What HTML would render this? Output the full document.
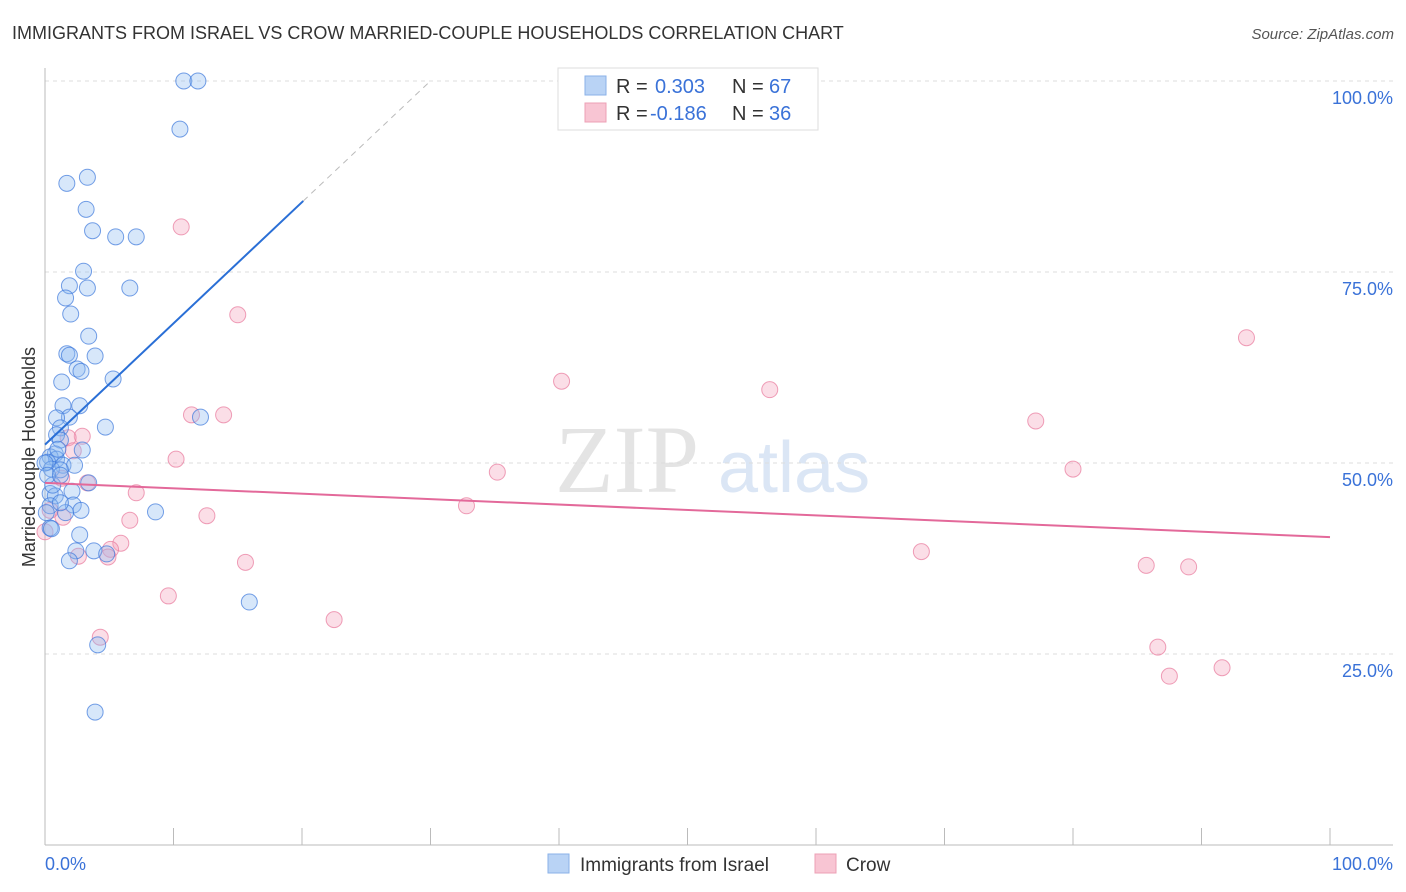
<!DOCTYPE html>
<html><head><meta charset="utf-8"><style>
body{margin:0;background:#fff;font-family:"Liberation Sans",sans-serif;}
svg{display:block}
</style></head><body>
<svg id="chart" width="1406" height="892">
<text x="12" y="39" font-size="18" fill="#333">IMMIGRANTS FROM ISRAEL VS CROW MARRIED-COUPLE HOUSEHOLDS CORRELATION CHART</text>
<text x="1394" y="39" font-size="15" fill="#555" font-style="italic" text-anchor="end">Source: ZipAtlas.com</text>
<text x="555" y="492" font-size="96" fill="#e4e4e4" font-family="Liberation Serif,serif">ZIP</text>
<text x="718" y="492" font-size="72" fill="#dbe6f5">atlas</text>
<g id="grid"></g>
<g id="axes"></g>
<g id="marks"></g>
<text transform="translate(35,457) rotate(-90)" font-size="18" fill="#333" text-anchor="middle">Married-couple Households</text>
<g>
<rect x="558" y="68" width="260" height="62" fill="#fff" stroke="#ddd"/>
<rect x="585" y="76" width="21" height="19" fill="#b9d3f5" stroke="#8ab2e8"/>
<text x="616" y="93" font-size="20" fill="#333">R = </text><text x="655" y="93" font-size="20" fill="#3a72d8">0.303</text>
<text x="732" y="93" font-size="20" fill="#333">N = </text><text x="769" y="93" font-size="20" fill="#3a72d8">67</text>
<rect x="585" y="103" width="21" height="19" fill="#f8c5d3" stroke="#eda0b6"/>
<text x="616" y="120" font-size="20" fill="#333">R = </text><text x="650" y="120" font-size="20" fill="#3a72d8">-0.186</text>
<text x="732" y="120" font-size="20" fill="#333">N = </text><text x="769" y="120" font-size="20" fill="#3a72d8">36</text>
</g>
<g>
<rect x="548" y="854" width="21" height="19" fill="#b9d3f5" stroke="#8ab2e8"/>
<text x="580" y="871" font-size="19" fill="#333">Immigrants from Israel</text>
<rect x="815" y="854" width="21" height="19" fill="#f8c5d3" stroke="#eda0b6"/>
<text x="846" y="871" font-size="19" fill="#333">Crow</text>
</g>
</svg>
<script>
const yTicks=[25,50,75,100];
const yTickLabels=["25.0%","50.0%","75.0%","100.0%"];
const xTickLabels=["0.0%","100.0%"];
const blueX=[10.8,11.9,10.5,3.3,1.7,3.2,3.7,5.5,7.1,3.0,1.9,3.3,6.6,1.6,2.0,3.4,1.7,1.9,3.9,2.5,2.8,5.3,1.3,2.7,1.4,1.9,0.9,12.1,4.7,1.2,0.9,1.2,2.9,0.8,0.4,0.9,0.2,1.4,2.3,0.5,1.2,3.4,0.4,0.8,2.1,2.2,0.4,2.8,1.6,8.6,0.4,2.7,0.5,2.4,3.8,1.9,4.8,15.9,4.1,3.9,0.6,1.0,0.0,0.2,1.2,0.1,1.2];
const blueY=[100,100,93.7,87.4,86.6,83.2,80.4,79.6,79.6,75.1,73.2,72.9,72.9,71.6,69.5,66.6,64.3,64.1,64.0,62.3,62.0,61.0,60.6,57.5,57.5,56.0,55.9,56.0,54.7,54.6,53.7,53.0,51.7,51.2,50.8,50.5,50.1,49.7,49.7,49.2,49.1,47.4,46.0,45.7,46.3,44.5,44.4,43.8,43.5,43.6,41.5,40.6,41.4,38.5,38.5,37.2,38.1,31.8,26.2,17.4,47.1,51.8,50.0,48.4,44.8,43.5,48.4];
const pinkX=[10.6,15.0,93.5,40.2,56.4,11.4,13.9,77.1,2.9,1.8,2.2,10.2,35.2,80.0,3.3,1.3,7.1,32.8,12.6,6.6,1.4,5.9,68.2,5.1,2.6,4.9,15.6,85.7,89.0,9.6,22.5,4.3,86.6,87.5,91.6,0.0,0.4];
const pinkY=[80.9,69.4,66.4,60.7,59.6,56.3,56.3,55.5,53.5,53.3,51.6,50.5,48.8,49.2,47.4,48.0,46.1,44.4,43.1,42.5,42.9,39.5,38.4,38.7,37.8,37.7,37.0,36.6,36.4,32.6,29.5,27.2,25.9,22.1,23.2,41.0,43.8];
const blueTrend=[52.4,1.587];
const pinkTrend=[47.4,-0.071];

const NS="http://www.w3.org/2000/svg";
const X0=45,X1=1330,Y0=845,Y1=81;
function sx(v){return X0+(X1-X0)*v/100;}
function sy(v){return Y0-(Y0-Y1)*v/100;}
function mk(tag,attrs,parent){const e=document.createElementNS(NS,tag);for(const k in attrs)e.setAttribute(k,attrs[k]);parent.appendChild(e);return e;}
const grid=document.getElementById('grid'),axes=document.getElementById('axes'),marks=document.getElementById('marks');
yTicks.forEach((t,i)=>{
  const l=mk('line',{x1:45,x2:1393,y1:sy(t),y2:sy(t),stroke:'#ddd','stroke-dasharray':'4,4'},grid);
  
  
  const tx=mk('text',{x:1393,y:sy(t)+23,'font-size':18,fill:'#3a72d8','text-anchor':'end'},axes);
  tx.textContent=yTickLabels[i];
  
  
});
const ya=mk('line',{x1:45,x2:45,y1:68,y2:845,stroke:'#bbb'},axes);


const xa=mk('line',{x1:45,x2:1393,y1:845,y2:845,stroke:'#bbb'},axes);


for(let i=1;i<=10;i++){
  const tk=mk('line',{x1:sx(i*10),x2:sx(i*10),y1:828,y2:845,stroke:'#bbb'},axes);
  
  
}
const xl0=mk('text',{x:45,y:870,'font-size':18,fill:'#3a72d8'},axes);xl0.textContent=xTickLabels[0];


const xl1=mk('text',{x:1393,y:870,'font-size':18,fill:'#3a72d8','text-anchor':'end'},axes);xl1.textContent=xTickLabels[1];



pinkX.forEach((x,i)=>{
  const c=mk('circle',{cx:sx(x),cy:sy(pinkY[i]),r:8,fill:'rgba(244,160,185,0.35)',stroke:'rgba(232,120,155,0.7)','stroke-width':1},marks);
  
  
});
blueX.forEach((x,i)=>{
  const c=mk('circle',{cx:sx(x),cy:sy(blueY[i]),r:8,fill:'rgba(140,185,240,0.35)',stroke:'rgba(60,120,220,0.7)','stroke-width':1},marks);
  
  
});
const bEnd=20.1, bMax=(100-blueTrend[0])/blueTrend[1];
const bt=mk('line',{x1:sx(0),y1:sy(blueTrend[0]),x2:sx(bEnd),y2:sy(blueTrend[0]+blueTrend[1]*bEnd),stroke:'#2a6fd6','stroke-width':2},marks);


const bd=mk('line',{x1:sx(bEnd),y1:sy(blueTrend[0]+blueTrend[1]*bEnd),x2:sx(bMax),y2:sy(100),stroke:'#bbb','stroke-width':1,'stroke-dasharray':'6,5'},marks);


const pt=mk('line',{x1:sx(0),y1:sy(pinkTrend[0]),x2:sx(100),y2:sy(pinkTrend[0]+pinkTrend[1]*100),stroke:'#e3699a','stroke-width':2},marks);


</script>
</body></html>
